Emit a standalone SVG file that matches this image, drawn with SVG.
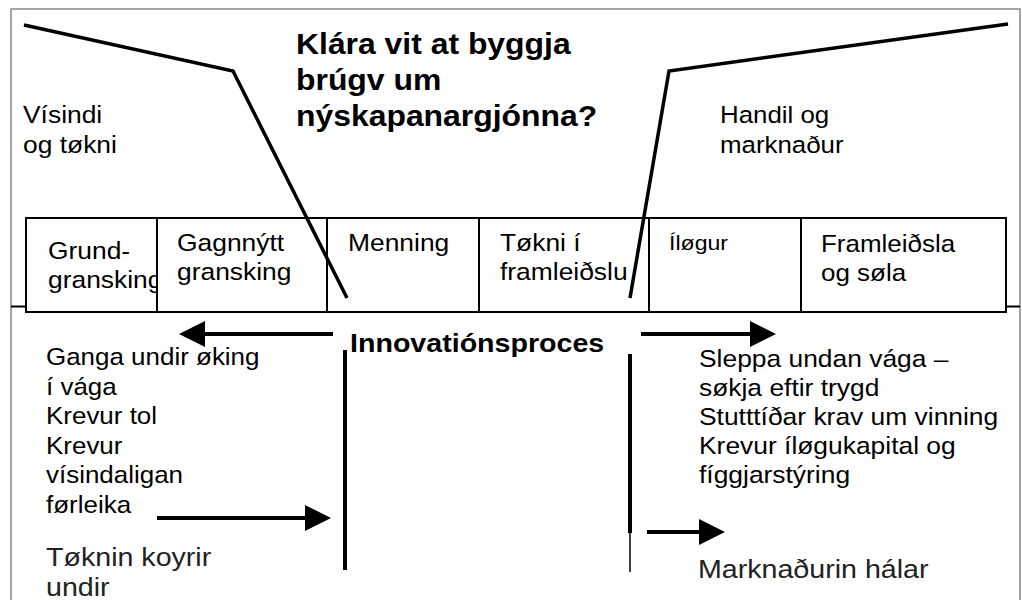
<svg xmlns="http://www.w3.org/2000/svg" width="1022" height="600" viewBox="0 0 1022 600">
<style>
text{font-family:"Liberation Sans",Arial,sans-serif;fill:#000}
.b{font-size:24px}
.t{font-size:29px;font-weight:bold}
.i{font-size:26px;font-weight:bold}
.s{font-size:21px}
.g{font-size:26px;fill:#222}
.ln{stroke:#000;fill:none}
</style>
<defs>
<marker id="ah" markerUnits="userSpaceOnUse" markerWidth="26" markerHeight="26" viewBox="0 0 26 26" refX="0" refY="13" orient="auto">
<path d="M0,0 L26,13 L0,26 z" fill="#000"/>
</marker>
<clipPath id="cell1"><rect x="26" y="218" width="131" height="94"/></clipPath>
</defs>
<rect width="1022" height="600" fill="#fff"/>
<path d="M11,600 V9 H1020 V600" fill="none" stroke="#888" stroke-width="1.5"/>
<g id="table">
<rect x="26" y="218" width="980" height="94" fill="none" stroke="#000" stroke-width="2"/>
<path d="M157,218V312 M327,218V312 M479,218V312 M649,218V312 M801,218V312 M11,306.5H26 M1006,306.5H1020" stroke="#000" stroke-width="2"/>
</g>
<g id="title"><text class="t" transform="translate(296 54) scale(1.1 1)"><tspan x="0" y="0">Klára vit at byggja</tspan><tspan x="0" y="36">brúgv um</tspan><tspan x="0" y="72">nýskapanargjónna?</tspan></text></g>
<g id="visindi"><text class="b" transform="translate(23 122.7) scale(1.1 1)"><tspan x="0" y="0">Vísindi</tspan><tspan x="0" y="30">og tøkni</tspan></text></g>
<g id="handil"><text class="b" transform="translate(720 122.7) scale(1.1 1)" style="font-size:23.5px"><tspan x="0" y="0">Handil og</tspan><tspan x="0" y="30">marknaður</tspan></text></g>
<g id="c1" clip-path="url(#cell1)"><text class="b" transform="translate(48 259) scale(1.1 1)"><tspan x="0" y="0">Grund-</tspan><tspan x="0" y="29">gransking</tspan></text></g>
<g id="c2"><text class="b" transform="translate(177 251) scale(1.1 1)"><tspan x="0" y="0">Gagnnýtt</tspan><tspan x="0" y="29">gransking</tspan></text></g>
<g id="c3"><text class="b" transform="translate(348 251) scale(1.1 1)">Menning</text></g>
<g id="c4"><text class="b" transform="translate(500 251) scale(1.1 1)"><tspan x="0" y="0">Tøkni í</tspan><tspan x="0" y="29">framleiðslu</tspan></text></g>
<g id="c5"><text class="s" transform="translate(669 250) scale(1.1 1)">Íløgur</text></g>
<g id="c6"><text class="b" transform="translate(821 252) scale(1.1 1)" style="font-size:23.6px"><tspan x="0" y="0">Framleiðsla</tspan><tspan x="0" y="29">og søla</tspan></text></g>
<g id="innovation"><text class="i" transform="translate(350 352) scale(1.1 1)">Innovatiónsproces</text></g>
<g id="left-list"><text class="b" transform="translate(46 365) scale(1.1 1)" style="font-size:23.6px"><tspan x="0" y="0">Ganga undir øking</tspan><tspan x="0" y="29.6">í vága</tspan><tspan x="0" y="59.2">Krevur tol</tspan><tspan x="0" y="88.8">Krevur</tspan><tspan x="0" y="118.4">vísindaligan</tspan><tspan x="0" y="148">førleika</tspan></text></g>
<g id="right-list"><text class="b" transform="translate(699 367) scale(1.1 1)"><tspan x="0" y="0">Sleppa undan vága –</tspan><tspan x="0" y="29">søkja eftir trygd</tspan><tspan x="0" y="58">Stutttíðar krav um vinning</tspan><tspan x="0" y="87">Krevur íløgukapital  og</tspan><tspan x="0" y="116">fíggjarstýring</tspan></text></g>
<g id="toknin"><text class="g" transform="translate(46 566) scale(1.1 1)"><tspan x="0" y="0">Tøknin koyrir</tspan><tspan x="0" y="30">undir</tspan></text></g>
<g id="markn"><text class="g" transform="translate(698 578) scale(1.1 1)">Marknaðurin hálar</text></g>
<g id="connectors">
<polyline class="ln" points="24,25 233,71 347,298" stroke-width="3.5"/>
<polyline class="ln" points="1008,24 669,71 630,298" stroke-width="3.5"/>
<line class="ln" x1="333" y1="334" x2="205" y2="334" stroke-width="4" marker-end="url(#ah)"/>
<line class="ln" x1="641" y1="334" x2="750" y2="334" stroke-width="4" marker-end="url(#ah)"/>
<line class="ln" x1="157" y1="518" x2="305" y2="518" stroke-width="4" marker-end="url(#ah)"/>
<line class="ln" x1="647" y1="532" x2="699" y2="532" stroke-width="4" marker-end="url(#ah)"/>
<line class="ln" x1="345" y1="350" x2="345" y2="570" stroke-width="4"/>
<line class="ln" x1="630" y1="354" x2="630" y2="533" stroke-width="4"/>
<line class="ln" x1="630" y1="533" x2="630" y2="572" stroke-width="1.5"/>
</g>
</svg>
